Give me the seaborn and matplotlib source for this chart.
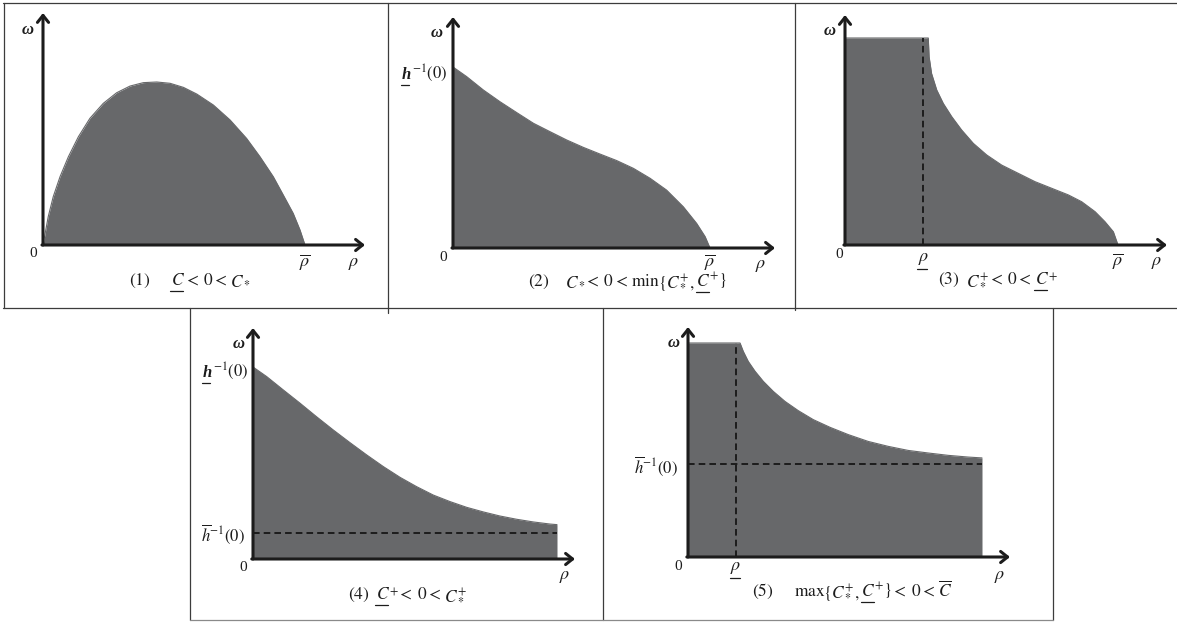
import matplotlib
matplotlib.use("Agg")
import matplotlib.pyplot as plt
import seaborn as sns
from matplotlib.lines import Line2D
from matplotlib.transforms import IdentityTransform

# boundary curves, rho in units of the panel's right end, omega in units of the panel's top level
# (1) C_ < 0 < C*
rho_1 = [0, 0.020, 0.039, 0.065, 0.097, 0.135, 0.179, 0.230, 0.281, 0.332, 0.383, 0.434,
         0.485, 0.536, 0.587, 0.650, 0.714, 0.777, 0.828, 0.879, 0.917, 0.955, 0.981, 1.0]
omega_1 = [0, 0.174, 0.296, 0.419, 0.542, 0.664, 0.777, 0.869, 0.934, 0.975, 0.996, 1.0,
           0.992, 0.967, 0.926, 0.859, 0.767, 0.654, 0.542, 0.419, 0.307, 0.194, 0.092, 0]

# (2) C* < 0 < min{C*+, C_+}
rho_2 = [0, 0.053, 0.118, 0.183, 0.248, 0.313, 0.377, 0.442, 0.507, 0.572, 0.637,
         0.702, 0.767, 0.831, 0.896, 0.948, 0.981, 1.0]
omega_2 = [1.0, 0.947, 0.873, 0.808, 0.748, 0.689, 0.643, 0.597, 0.556, 0.519, 0.483,
           0.440, 0.385, 0.320, 0.228, 0.136, 0.063, 0]

# (3) C*+ < 0 < C_+
rho_3 = [0, 0.305, 0.308, 0.317, 0.336, 0.360, 0.391, 0.427, 0.470, 0.519, 0.574, 0.635,
         0.696, 0.757, 0.818, 0.867, 0.916, 0.952, 0.983, 1.0]
omega_3 = [1.0, 1.0, 0.910, 0.829, 0.749, 0.684, 0.620, 0.556, 0.491, 0.435, 0.386, 0.346,
           0.306, 0.274, 0.242, 0.209, 0.161, 0.113, 0.064, 0]
rho_low_3 = 0.287

# (4) C_+ < 0 < C*+
rho_4 = [0, 0.045, 0.100, 0.155, 0.209, 0.264, 0.319, 0.374, 0.429, 0.484, 0.538,
         0.593, 0.648, 0.703, 0.758, 0.812, 0.867, 0.922, 0.977, 1.0]
omega_4 = [1.0, 0.950, 0.880, 0.811, 0.741, 0.672, 0.606, 0.542, 0.481, 0.425, 0.377,
           0.333, 0.299, 0.269, 0.245, 0.224, 0.207, 0.193, 0.182, 0.179]
h_bar_4 = 0.134

# (5) max{C*+, C_+} < 0 < C-bar
rho_5 = [0, 0.177, 0.188, 0.205, 0.228, 0.256, 0.290, 0.330, 0.375, 0.426, 0.483,
         0.545, 0.613, 0.681, 0.749, 0.817, 0.885, 0.953, 1.0]
omega_5 = [1.0, 1.0, 0.961, 0.914, 0.868, 0.821, 0.774, 0.727, 0.684, 0.642, 0.606,
           0.572, 0.540, 0.517, 0.498, 0.486, 0.475, 0.467, 0.463]
rho_low_5 = 0.163
h_bar_5 = 0.435

# label pieces: "mathtext", (text, underlined[, style]) or a gap in px
OMEGA = [("ω", False, {"style": "italic", "weight": "bold"})]
ZERO = ["0"]
RHO = [r"$\rho$"]
RHO_BAR = [r"$\overline{\rho}$"]
RHO_LOW = [(r"$\rho$", True)]
H_LOW = [("h", True, {"style": "italic", "weight": "bold"}), 1, r"$^{-1}(0)$"]
H_BAR = [r"$\overline{h}^{-1}(0)$"]

LESS = [-1, "$<$", 4, "$0$", -1, "$<$", 3]
CAPTION_1 = ["$(1)$", 20, ("$C$", True)] + LESS + ["$C_*$"]
CAPTION_2 = ["$(2)$", 15, "$C_*$"] + LESS + [r"$\min$", -2, r"$\{C_*^{+},$", 2, ("$C$", True), -1, r"$^{+}\}$"]
CAPTION_3 = ["$(3)$", 6, "$C_*^{+}$"] + LESS + [("$C$", True), -1, "$^{+}$"]
CAPTION_4 = ["$(4)$", 6, ("$C$", True), -1, "$^{+}$"] + LESS + ["$C_*^{+}$"]
CAPTION_5 = ["$(5)$", 20, r"$\max$", -2, r"$\{C_*^{+},$", 2, ("$C$", True), -1, r"$^{+}\}$"] + LESS + [r"$\overline{C}$"]

W, H = 1177, 622
FILL = "#67686a"
INK = "#1c1c1c"
FRAME = "#3c3c3c"

sns.set_theme(style="white")
plt.rcParams["font.family"] = ["Liberation Serif", "DejaVu Serif"]
plt.rcParams["mathtext.fontset"] = "stix"

fig = plt.figure(figsize=(W / 100, H / 100), dpi=100)
fig.patch.set_facecolor("white")
renderer = fig.canvas.get_renderer()


def frame_line(xs, ys, color=FRAME, lw=0.9):
    fig.add_artist(Line2D([x / W for x in xs], [1 - y / H for y in ys],
                          transform=fig.transFigure, color=color, lw=lw))


def label(ax, x, y, parts, dx=0, dy=0, ha="center", size=12):
    # baseline of the text sits dy px below / dx px right of the data point
    bx, by = ax.transData.transform((x, y))
    bx, by = bx + dx, by - dy
    pieces = []
    for part in parts:
        if isinstance(part, (int, float)):
            pieces.append((None, part, False, 0))
            continue
        if isinstance(part, str):
            part = (part, False)
        style = part[2] if len(part) > 2 else {}
        t = fig.text(0, 0, part[0], transform=IdentityTransform(), fontsize=size,
                     ha="left", va="baseline", color=INK, **style)
        bb = t.get_window_extent(renderer)
        pieces.append((t, bb.width, part[1], min(bb.y0, 0)))
    total = sum(p[1] for p in pieces)
    x0 = {"left": bx, "center": bx - total / 2, "right": bx - total}[ha]
    for t, w, under, low in pieces:
        if t is not None:
            t.set_position((x0, by))
            if under:
                yl = by + low - 2
                fig.add_artist(Line2D([x0 - 0.5, x0 + w - 1.5], [yl, yl],
                                      transform=IdentityTransform(), color=INK, lw=0.9))
        x0 += w


def make_panel(origin, sx, sy, tip, rho, omega):
    ox, oy = origin
    tx, ty = tip
    ax = fig.add_axes([ox / W, 1 - oy / H, (tx - ox) / W, (oy - ty) / H])
    ax.fill_between(rho, omega, 0, color=FILL, lw=0, zorder=1)
    sns.lineplot(x=rho, y=omega, ax=ax, color=FILL, lw=0.8, sort=False, estimator=None, zorder=2)
    xmax, ymax = (tx - ox) / sx, (oy - ty) / sy
    ax.set_xlim(0, xmax)
    ax.set_ylim(0, ymax)
    ax.set_axis_off()
    arrow = dict(arrowstyle="->,head_length=0.5,head_width=0.4", lw=2.2, color=INK,
                 shrinkA=0, shrinkB=0, mutation_scale=10, clip_on=False)
    ax.annotate("", xy=(xmax, 0), xytext=(-0.004, 0), arrowprops=arrow, annotation_clip=False, zorder=5)
    ax.annotate("", xy=(0, ymax), xytext=(0, 0), arrowprops=arrow, annotation_clip=False, zorder=5)
    return ax, xmax, ymax


dash = dict(color=INK, lw=1.4, linestyle=(0, (3.4, 2.1)), zorder=4)
CAP = 12.5

# panel 1
ax, xmax, ymax = make_panel((43, 245), 262, 163, (365, 13), rho_1, omega_1)
label(ax, 0, ymax, OMEGA, dx=-15, dy=21, size=12)
label(ax, 0, 0, ZERO, dx=-10, dy=12, size=11)
label(ax, rho_1[-1], 0, RHO_BAR, dy=21, size=13)
label(ax, xmax, 0, RHO, dx=-11, dy=21, size=13)
label(ax, 0, 0, CAPTION_1, dx=86, dy=40, ha="left", size=CAP)

# panel 2
ax, xmax, ymax = make_panel((453, 248), 257, 181, (775, 17), rho_2, omega_2)
label(ax, 0, ymax, OMEGA, dx=-16, dy=20, size=12)
label(ax, 0, omega_2[0], H_LOW, dx=-6, dy=12, ha="right", size=12)
label(ax, 0, 0, ZERO, dx=-10, dy=13, size=11)
label(ax, rho_2[-1], 0, RHO_BAR, dy=18, size=13)
label(ax, xmax, 0, RHO, dx=-14, dy=20, size=13)
label(ax, 0, 0, CAPTION_2, dx=75, dy=38, ha="left", size=CAP)

# panel 3
ax, xmax, ymax = make_panel((845, 245), 273, 207, (1167, 15), rho_3, omega_3)
ax.vlines(rho_low_3, 0, max(omega_3), **dash)
label(ax, 0, ymax, OMEGA, dx=-15, dy=20, size=12)
label(ax, 0, 0, ZERO, dx=-6, dy=13, size=11)
label(ax, rho_low_3, 0, RHO_LOW, dy=16, size=13)
label(ax, rho_3[-1], 0, RHO_BAR, dy=20, size=13)
label(ax, xmax, 0, RHO, dx=-10, dy=20, size=13)
label(ax, 0, 0, CAPTION_3, dx=93, dy=39, ha="left", size=CAP)

# panel 4
ax, xmax, ymax = make_panel((253, 559), 304, 192, (575, 328), rho_4, omega_4)
ax.hlines(h_bar_4, 0, rho_4[-1], **dash)
label(ax, 0, ymax, OMEGA, dx=-14, dy=20, size=12)
label(ax, 0, omega_4[0], H_LOW, dx=-5, dy=10, ha="right", size=12)
label(ax, 0, h_bar_4, H_BAR, dx=-8, dy=8, ha="right", size=12)
label(ax, 0, 0, ZERO, dx=-10, dy=12, size=11)
label(ax, xmax, 0, RHO, dx=-10, dy=20, size=13)
label(ax, 0, 0, CAPTION_4, dx=95, dy=40, ha="left", size=CAP)

# panel 5
ax, xmax, ymax = make_panel((688, 557), 294, 214, (1010, 327), rho_5, omega_5)
ax.vlines(rho_low_5, 0, max(omega_5), **dash)
ax.hlines(h_bar_5, 0, rho_5[-1], **dash)
label(ax, 0, ymax, OMEGA, dx=-14, dy=20, size=12)
label(ax, 0, h_bar_5, H_BAR, dx=-10, dy=9, ha="right", size=12)
label(ax, 0, 0, ZERO, dx=-10, dy=13, size=11)
label(ax, rho_low_5, 0, RHO_LOW, dy=13, size=13)
label(ax, xmax, 0, RHO, dx=-10, dy=22, size=13)
label(ax, 0, 0, CAPTION_5, dx=64, dy=39, ha="left", size=CAP)

# table frame around the panels
frame_line([3, 1177], [3, 3])
frame_line([3, 1177], [308, 308])
frame_line([4, 4], [3, 308])
frame_line([388, 388], [3, 313])
frame_line([795, 795], [3, 310])
frame_line([190, 190], [308, 620])
frame_line([603, 603], [308, 620])
frame_line([1053, 1053], [308, 620])
frame_line([190, 1053], [620, 620], color="#8a8a8a")

fig.savefig("out.png", dpi=100, facecolor="white")
